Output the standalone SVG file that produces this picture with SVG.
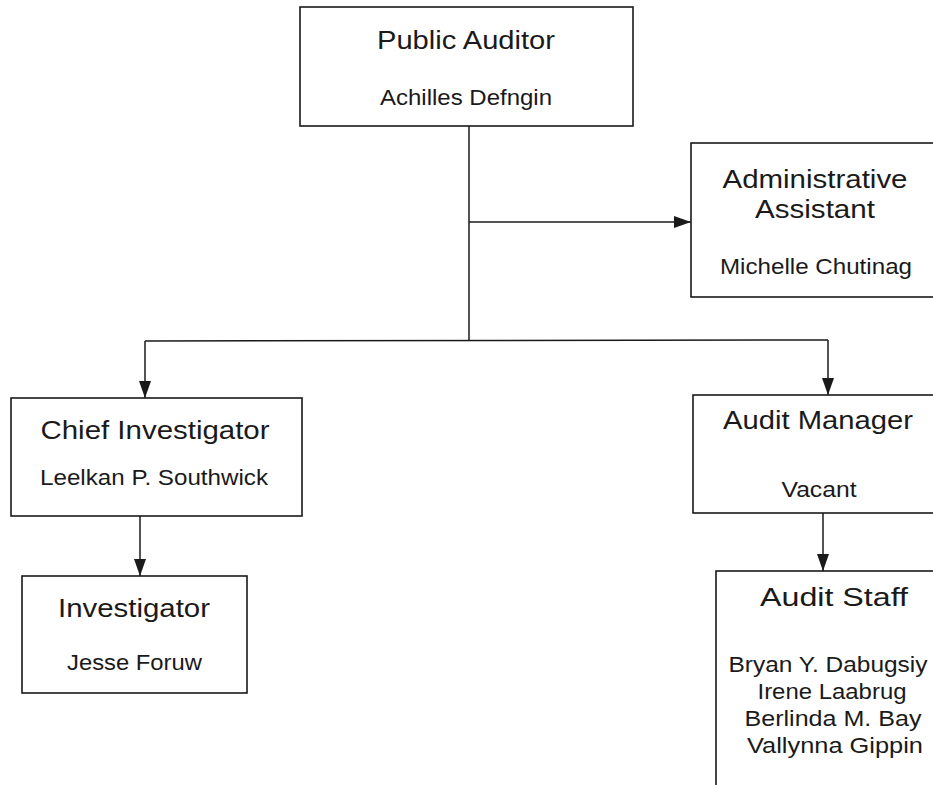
<svg xmlns="http://www.w3.org/2000/svg" width="933" height="785" viewBox="0 0 933 785">
<style>
.box{fill:#fff;stroke:#1a1a1a;stroke-width:1.6}
.t{font-family:"Liberation Sans",Arial,sans-serif;font-size:25.5px;fill:#1a1a1a;text-anchor:middle}
.s{font-family:"Liberation Sans",Arial,sans-serif;font-size:22px;fill:#1a1a1a;text-anchor:middle}
.c{fill:none;stroke:#1a1a1a;stroke-width:1.5}
</style>
<defs>
<marker id="arr" markerWidth="17" markerHeight="12" refX="17" refY="6" orient="auto" markerUnits="userSpaceOnUse">
<path d="M0,0 L17,6 L0,12 Z" fill="#1a1a1a"/>
</marker>
</defs>
<rect width="933" height="785" fill="#fff"/>
<g id="connectors">
<line class="c" x1="469" y1="126" x2="469" y2="341"/>
<line class="c" x1="469" y1="222" x2="691" y2="222" marker-end="url(#arr)"/>
<line class="c" x1="145" y1="341" x2="828" y2="340"/>
<line class="c" x1="145" y1="341" x2="145" y2="398" marker-end="url(#arr)"/>
<line class="c" x1="828" y1="340" x2="828" y2="395" marker-end="url(#arr)"/>
<line class="c" x1="140" y1="516" x2="140" y2="576" marker-end="url(#arr)"/>
<line class="c" x1="823" y1="513" x2="823" y2="571" marker-end="url(#arr)"/>
</g>
<g id="public-auditor">
<rect class="box" x="300" y="7" width="333" height="119"/>
<text class="t" x="466" y="49" textLength="178" lengthAdjust="spacingAndGlyphs">Public Auditor</text>
<text class="s" x="466" y="105" textLength="172" lengthAdjust="spacingAndGlyphs">Achilles Defngin</text>
</g>
<g id="administrative-assistant">
<rect class="box" x="691" y="143" width="260" height="154"/>
<text class="t" x="815" y="188" textLength="185" lengthAdjust="spacingAndGlyphs">Administrative</text>
<text class="t" x="815" y="218" textLength="120" lengthAdjust="spacingAndGlyphs">Assistant</text>
<text class="s" x="816" y="274" textLength="192" lengthAdjust="spacingAndGlyphs">Michelle Chutinag</text>
</g>
<g id="chief-investigator">
<rect class="box" x="11" y="398" width="291" height="118"/>
<text class="t" x="155" y="439" textLength="229" lengthAdjust="spacingAndGlyphs">Chief Investigator</text>
<text class="s" x="154" y="485" textLength="228" lengthAdjust="spacingAndGlyphs">Leelkan P. Southwick</text>
</g>
<g id="audit-manager">
<rect class="box" x="693" y="395" width="260" height="118"/>
<text class="t" x="818" y="429" textLength="190" lengthAdjust="spacingAndGlyphs">Audit Manager</text>
<text class="s" x="819" y="497" textLength="75" lengthAdjust="spacingAndGlyphs">Vacant</text>
</g>
<g id="investigator">
<rect class="box" x="22" y="576" width="225" height="117"/>
<text class="t" x="134" y="617" textLength="152" lengthAdjust="spacingAndGlyphs">Investigator</text>
<text class="s" x="134.5" y="670" textLength="135" lengthAdjust="spacingAndGlyphs">Jesse Foruw</text>
</g>
<g id="audit-staff">
<rect class="box" x="716" y="571" width="260" height="260"/>
<text class="t" x="834" y="606" textLength="148" lengthAdjust="spacingAndGlyphs">Audit Staff</text>
<text class="s" x="828" y="672" textLength="199" lengthAdjust="spacingAndGlyphs">Bryan Y. Dabugsiy</text>
<text class="s" x="832" y="699" textLength="149" lengthAdjust="spacingAndGlyphs">Irene Laabrug</text>
<text class="s" x="833" y="726" textLength="177" lengthAdjust="spacingAndGlyphs">Berlinda M. Bay</text>
<text class="s" x="835" y="753" textLength="176" lengthAdjust="spacingAndGlyphs">Vallynna Gippin</text>
</g>
</svg>
